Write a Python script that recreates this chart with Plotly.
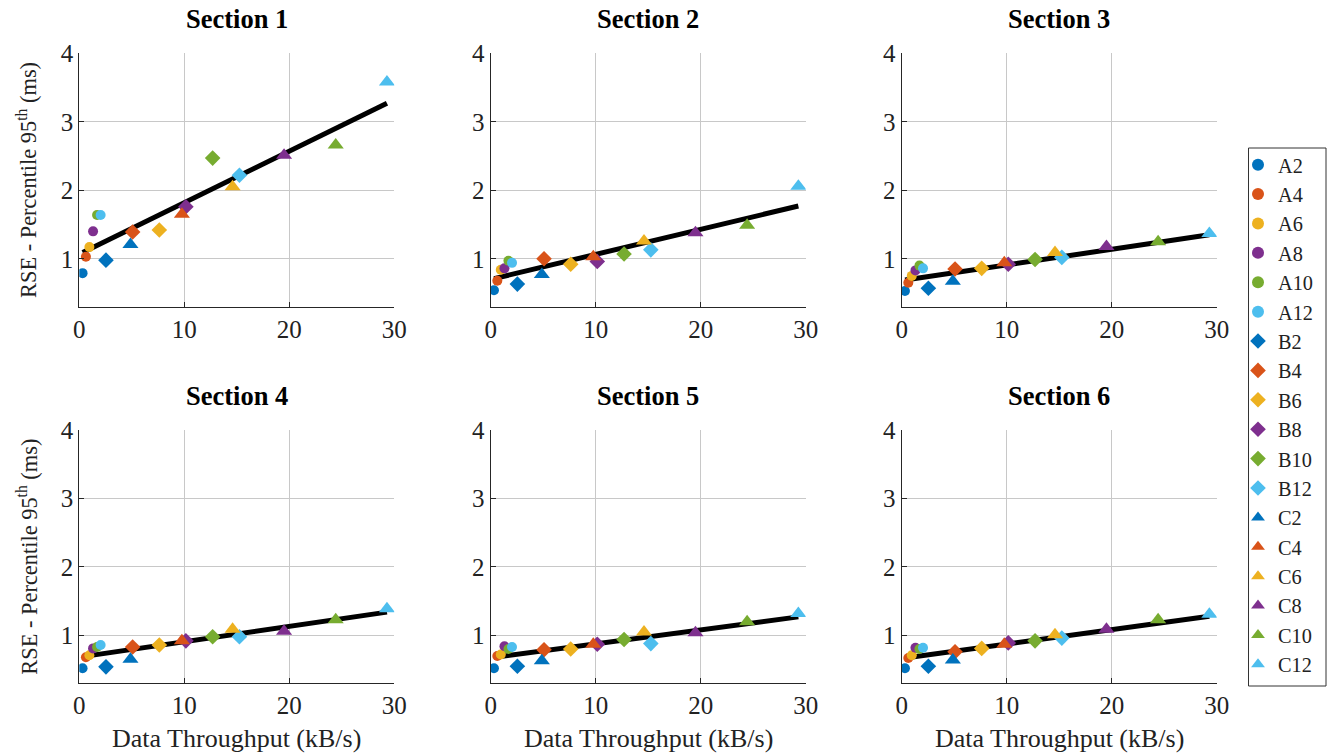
import plotly.graph_objects as go

# ---------------- data ----------------
labels_A = ["A2", "A4", "A6", "A8", "A10", "A12"]
labels_B = ["B2", "B4", "B6", "B8", "B10", "B12"]
labels_C = ["C2", "C4", "C6", "C8", "C10", "C12"]

x_A = [0.31, 0.63, 0.96, 1.31, 1.69, 2.03]
x_B = [2.54, 5.08, 7.62, 10.15, 12.7, 15.25]
x_C = [4.87, 9.77, 14.6, 19.5, 24.42, 29.3]

# Section 1
s1_A = [0.79, 1.03, 1.17, 1.40, 1.64, 1.64]
s1_B = [0.98, 1.39, 1.42, 1.76, 2.47, 2.22]
s1_C = [1.21, 1.65, 2.05, 2.51, 2.66, 3.58]
s1_fit = [1.09, 3.27]
# Section 2
s2_A = [0.54, 0.68, 0.84, 0.86, 0.97, 0.94]
s2_B = [0.63, 1.00, 0.92, 0.96, 1.07, 1.13]
s2_C = [0.77, 1.03, 1.26, 1.38, 1.49, 2.06]
s2_fit = [0.71, 1.77]
# Section 3
s3_A = [0.53, 0.65, 0.75, 0.83, 0.90, 0.86]
s3_B = [0.57, 0.85, 0.86, 0.92, 0.99, 1.02]
s3_C = [0.67, 0.94, 1.09, 1.18, 1.25, 1.37]
s3_fit = [0.69, 1.35]
# Section 4
s4_A = [0.52, 0.68, 0.71, 0.81, 0.83, 0.86]
s4_B = [0.54, 0.83, 0.86, 0.92, 0.98, 0.98]
s4_C = [0.65, 0.92, 1.09, 1.06, 1.23, 1.39]
s4_fit = [0.69, 1.34]
# Section 5
s5_A = [0.52, 0.70, 0.72, 0.84, 0.80, 0.83]
s5_B = [0.55, 0.79, 0.80, 0.87, 0.94, 0.88]
s5_C = [0.63, 0.87, 1.05, 1.04, 1.20, 1.32]
s5_fit = [0.68, 1.27]
# Section 6
s6_A = [0.52, 0.67, 0.71, 0.82, 0.80, 0.82]
s6_B = [0.55, 0.76, 0.81, 0.89, 0.92, 0.96]
s6_C = [0.64, 0.87, 1.01, 1.09, 1.23, 1.31]
s6_fit = [0.67, 1.28]

fit_x = [0.32, 29.3]
section_titles = ["Section 1", "Section 2", "Section 3", "Section 4", "Section 5", "Section 6"]
x_ticks = [0, 10, 20, 30]
y_ticks = [1, 2, 3, 4]

# ---------------- styling ----------------
colors = ["#0072BD", "#D95319", "#EDB120", "#7E2F8E", "#77AC30", "#4DBEEE"]
W, H = 1328, 755
col_px = [(79.3, 394.3), (490.7, 805.7), (901.7, 1216.7)]
row_px = [(53.3, 306.7), (430.0, 683.3)]
FONT = "'Liberation Serif', 'Times New Roman', serif"

sections = [
    (s1_A, s1_B, s1_C, s1_fit),
    (s2_A, s2_B, s2_C, s2_fit),
    (s3_A, s3_B, s3_C, s3_fit),
    (s4_A, s4_B, s4_C, s4_fit),
    (s5_A, s5_B, s5_C, s5_fit),
    (s6_A, s6_B, s6_C, s6_fit),
]

fig = go.Figure()
layout = dict(
    width=W, height=H,
    margin=dict(l=0, r=0, t=0, b=0, pad=0, autoexpand=False),
    paper_bgcolor="white", plot_bgcolor="white",
    font=dict(family=FONT, size=22, color="#222"),
    showlegend=True,
)
annotations = []

for i, (yA, yB, yC, yfit) in enumerate(sections):
    r, c = divmod(i, 3)
    n = i + 1
    xa = "x" if n == 1 else f"x{n}"
    ya = "y" if n == 1 else f"y{n}"
    x0, x1 = col_px[c]
    y0, y1 = row_px[r]
    layout[f"xaxis{'' if n == 1 else n}"] = dict(
        domain=[x0 / W, x1 / W], anchor=ya, range=[0, 30],
        tickvals=x_ticks, showgrid=True, gridcolor="#c8c8c8", gridwidth=1,
        showline=True, linecolor="#262626", linewidth=1.2, mirror=False,
        ticks="inside", ticklen=5, tickcolor="#262626",
        zeroline=False, tickfont=dict(size=25, family=FONT, color="#222"),
    )
    layout[f"yaxis{'' if n == 1 else n}"] = dict(
        domain=[1 - y1 / H, 1 - y0 / H], anchor=xa, range=[0.3, 4],
        tickvals=y_ticks, showgrid=True, gridcolor="#c8c8c8", gridwidth=1,
        showline=True, linecolor="#262626", linewidth=1.2, mirror=False,
        ticks="inside", ticklen=5, tickcolor="#262626",
        zeroline=False, tickfont=dict(size=25, family=FONT, color="#222"),
    )
    # fit line
    fig.add_trace(go.Scatter(
        x=fit_x, y=yfit, mode="lines", line=dict(color="black", width=5),
        xaxis=xa, yaxis=ya, showlegend=False, hoverinfo="skip"))
    # markers
    for grp, (xs, ys, labs, sym, sz) in enumerate([
            (x_A, yA, labels_A, "circle", 10),
            (x_B, yB, labels_B, "diamond", 12),
            (x_C, yC, labels_C, "triangle-up", 14)]):
        for k in range(6):
            fig.add_trace(go.Scatter(
                x=[xs[k]], y=[ys[k]], mode="markers", name=labs[k],
                marker=dict(symbol=sym, size=sz, color=colors[k], line=dict(width=0)),
                xaxis=xa, yaxis=ya, showlegend=(i == 0), legendgroup=labs[k]))
    annotations.append(dict(
        text=f"<b>{section_titles[i]}</b>", x=(x0 + x1) / 2 / W, y=1 - (y0 - 34) / H,
        xref="paper", yref="paper", showarrow=False, xanchor="center", yanchor="middle",
        font=dict(size=26.5, family=FONT, color="black")))
    if c == 0:
        annotations.append(dict(
            text="RSE - Percentile 95<sup>th</sup> (ms)", x=27 / W, y=1 - ((y0 + y1) / 2) / H,
            xref="paper", yref="paper", showarrow=False, textangle=-90,
            xanchor="center", yanchor="middle",
            font=dict(size=22.4, family=FONT, color="#222")))
    if r == 1:
        annotations.append(dict(
            text="Data Throughput (kB/s)", x=(x0 + x1) / 2 / W, y=1 - 738 / H,
            xref="paper", yref="paper", showarrow=False, xanchor="center", yanchor="middle",
            font=dict(size=26, family=FONT, color="#222")))

layout["annotations"] = annotations
# legend box drawn as a rectangle so that the entries can sit closer to its left edge
layout["shapes"] = [dict(
    type="rect", xref="paper", yref="paper",
    x0=1248.5 / W, x1=1326 / W, y0=1 - 686 / H, y1=1 - 148 / H,
    line=dict(color="#333", width=1), fillcolor="rgba(0,0,0,0)", layer="below")]
layout["legend"] = dict(
    x=1238 / W, y=1 - 145 / H, xanchor="left", yanchor="top",
    borderwidth=0, bgcolor="rgba(0,0,0,0)",
    font=dict(size=20.3, family=FONT, color="#222"),
    itemsizing="constant", tracegroupgap=0, itemwidth=30,
)
fig.update_layout(**layout)
fig.write_html("out.html")
